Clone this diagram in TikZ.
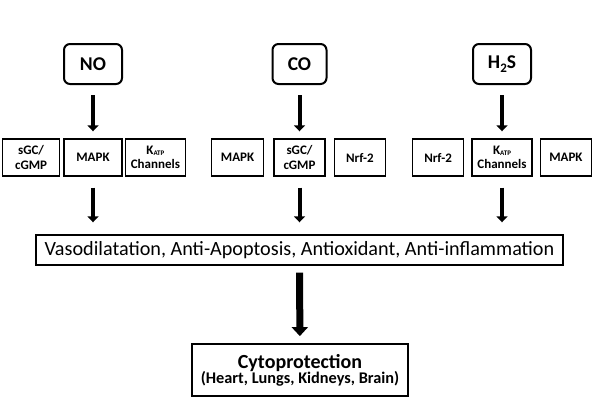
\documentclass[tikz,border=0pt]{standalone}
\usepackage{fontspec}
\setmainfont{Carlito}
\usepackage{tikz}
\usetikzlibrary{positioning, arrows.meta}

\begin{document}
\begin{tikzpicture}[x=1pt, y=-1pt]
	\tikzstyle{gas} = [rectangle, draw, line width=2pt, rounded corners=6pt, minimum width=58pt, minimum height=40pt, inner sep=0pt, font=\fontsize{19.5}{21}\selectfont\bfseries]
	\tikzstyle{path box} = [rectangle, draw, line width=1.4pt, minimum height=37pt, inner sep=0pt, align=center, font=\fontsize{13}{14.5}\selectfont\bfseries]
	\tikzstyle{effect} = [rectangle, draw, line width=1.4pt, minimum width=527pt, minimum height=30pt, inner sep=0pt, font=\fontsize{20.2}{22}\selectfont]
	\tikzstyle{result} = [rectangle, draw, line width=1.8pt, minimum width=216pt, minimum height=52pt, inner sep=0pt, align=center]
	\tikzstyle{to} = [draw, line width=4pt, -{Triangle[width=11pt, length=6pt]}]
	\tikzstyle{big to} = [draw, line width=7pt, -{Triangle[width=16pt, length=9pt]}]

	\useasboundingbox (0,0) rectangle (600,415);

	% row 0
	\node [gas] (no)  at (93,64)    {NO};
	\node [gas, minimum width=54pt] (co) at (299.5,64) {CO};
	\node [gas] (hs)  at (502,64)   {H\raisebox{-3.5pt}{\fontsize{13}{13}\selectfont 2}S};

	% row 1
	\node [path box, minimum width=58pt] (mapk no) at (93,157.5) {MAPK};
	\node [path box, minimum width=57pt, left=3pt of mapk no]  (sgc no)  {sGC/\\cGMP};
	\node [path box, minimum width=60pt, right=2pt of mapk no] (katp no) {K\raisebox{-1.5pt}{\fontsize{7}{7}\selectfont ATP}\\Channels};

	\node [path box, minimum width=51pt] (sgc co) at (299.5,157.5) {sGC/\\cGMP};
	\node [path box, minimum width=52pt, left=9pt of sgc co]  (mapk co) {MAPK};
	\node [path box, minimum width=51pt, right=8pt of sgc co] (nrf co)  {Nrf-2};

	\node [path box, minimum width=60pt] (katp hs) at (502,157.5) {K\raisebox{-1.5pt}{\fontsize{7}{7}\selectfont ATP}\\Channels};
	\node [path box, minimum width=51pt, left=7pt of katp hs]  (nrf hs)  {Nrf-2};
	\node [path box, minimum width=51pt, right=7pt of katp hs] (mapk hs) {MAPK};

	% row 2
	\node [effect] (effects) at (299.5,250) {Vasodilatation, Anti-Apoptosis, Antioxidant, Anti-inflammation};

	% row 3
	\node [result] (cyto) at (300,370) {{\fontsize{20}{23}\selectfont\bfseries Cytoprotection}\\[-1pt]{\fontsize{16.3}{17}\selectfont\bfseries (Heart, Lungs, Kidneys, Brain)}};

	%arrows gas -> pathways
	\path [to, shorten <=10pt, shorten >=7pt] (no) -- (mapk no);
	\path [to, shorten <=10pt, shorten >=7pt] (co) -- (sgc co);
	\path [to, shorten <=10pt, shorten >=7pt] (hs) -- (katp hs);

	%arrows pathways -> effects
	\path [to, shorten <=11pt, shorten >=12pt] (mapk no) -- (mapk no |- effects.north);
	\path [to, shorten <=11pt, shorten >=12pt] (sgc co) -- (sgc co |- effects.north);
	\path [to, shorten <=11pt, shorten >=12pt] (katp hs) -- (katp hs |- effects.north);

	\path [big to, shorten <=7pt, shorten >=7pt] (effects) -- (cyto);
\end{tikzpicture}
\end{document}
